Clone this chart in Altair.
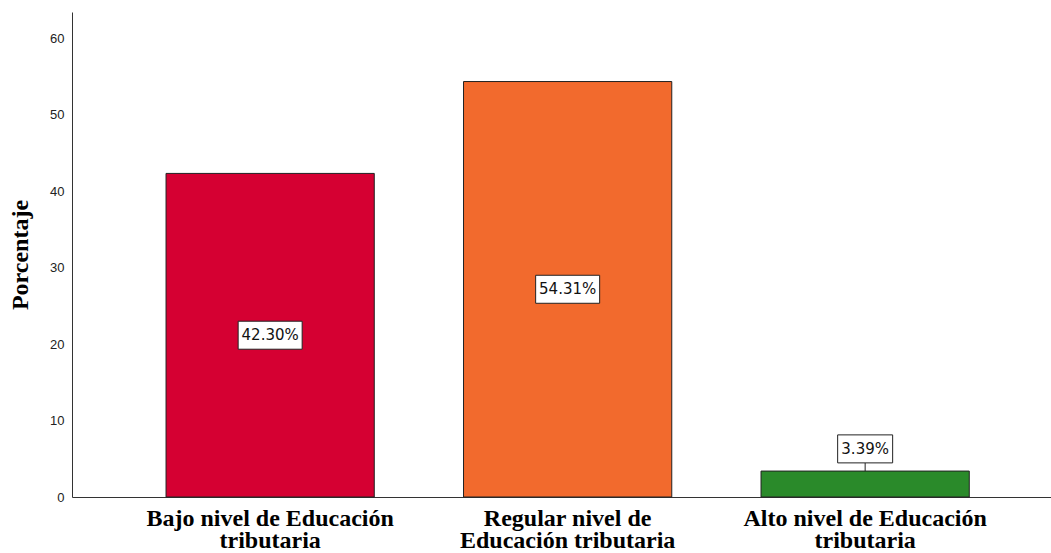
import altair as alt
import pandas as pd

categories = [
    "Bajo nivel de Educación\ntributaria",
    "Regular nivel de\nEducación tributaria",
    "Alto nivel de Educación\ntributaria",
]
values = [42.30, 54.31, 3.39]
colors = ["#d50032", "#f26a2d", "#2a8a2a"]
labels = ["42.30%", "54.31%", "3.39%"]

df = pd.DataFrame({"cat": categories, "value": values, "label": labels})

x = alt.X(
    "cat:N",
    sort=categories,
    title=None,
    scale=alt.Scale(paddingInner=0.3, paddingOuter=0.2954, align=0.535),
    axis=alt.Axis(
        labelExpr="split(datum.value, '\\n')",
        labelAngle=0,
        labelFont="Liberation Serif",
        labelFontWeight="bold",
        labelFontSize=24,
        labelLineHeight=22,
        labelColor="#000000",
        labelPadding=9,
        labelLimit=600,
        ticks=False,
        domainColor="#333333",
        domainWidth=1,
        grid=False,
    ),
)
yscale = alt.Scale(domain=[0, 63.4], nice=False, zero=True)

bars = alt.Chart(df).mark_bar(stroke="#222222", strokeWidth=1).encode(
    x=x,
    y=alt.Y(
        "value:Q",
        scale=yscale,
        title="Porcentaje",
        axis=alt.Axis(
            values=[0, 10, 20, 30, 40, 50, 60],
            ticks=False,
            grid=False,
            labelFont="Liberation Sans",
            labelFontSize=13,
            labelColor="#222222",
            labelPadding=8,
            domainColor="#333333",
            titleFont="Liberation Serif",
            titleFontWeight="bold",
            titleFontSize=24,
            titleColor="#000000",
            titleX=-52,
            titleBaseline="middle",
        ),
    ),
    color=alt.Color("cat:N", sort=categories, scale=alt.Scale(domain=categories, range=colors), legend=None),
)

base = alt.Chart(df).transform_calculate(
    ly="datum.value > 10 ? datum.value / 2 : datum.value + 2.9",
    w="9 * length(datum.label) + 10",
).transform_calculate(
    shp="'M-1,' + (-28 / datum.w) + 'L1,' + (-28 / datum.w) + 'L1,' + (28 / datum.w) + 'L-1,' + (28 / datum.w) + 'Z'",
    sz="datum.w * datum.w",
)

leader = base.transform_filter("datum.value <= 10").mark_rule(color="#222222", strokeWidth=1).encode(
    x=alt.X("cat:N", sort=categories),
    y=alt.Y("value:Q", scale=yscale),
    y2="ly:Q",
)

boxes = base.mark_point(filled=True, fill="white", stroke="#222222", strokeWidth=1, opacity=1).encode(
    x=alt.X("cat:N", sort=categories),
    y=alt.Y("ly:Q", scale=yscale),
    shape=alt.Shape("shp:N", scale=None),
    size=alt.Size("sz:Q", scale=None),
)

texts = base.mark_text(font="DejaVu Sans", fontSize=15, color="#111111", baseline="middle", align="center").encode(
    x=alt.X("cat:N", sort=categories),
    y=alt.Y("ly:Q", scale=yscale),
    text="label:N",
)

chart = alt.layer(bars, leader, boxes, texts).properties(
    width=979,
    height=485,
    padding={"left": 72, "top": 12, "right": 0, "bottom": 56},
    autosize=alt.AutoSizeParams(type="none"),
    background="white",
).configure_view(stroke=None)

chart.save("out.html", embed_options={"renderer": "svg", "actions": False})
